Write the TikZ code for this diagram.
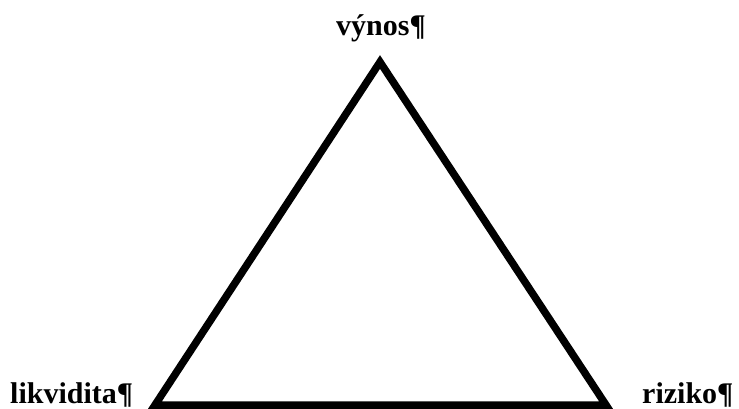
\documentclass[tikz,border=0pt]{standalone}
\usepackage{fontspec}
\setmainfont{Liberation Serif}
\tikzset{lbl/.style={font=\fontsize{30}{34}\selectfont\bfseries, inner sep=0pt, text=black},
  edge/.style={line width=7.5pt, line join=miter, draw=black}}
\begin{document}
\begin{tikzpicture}[x=1pt,y=-1pt]
\useasboundingbox (0,0) rectangle (739,409);
\coordinate (top) at (380,62);
\coordinate (bl) at (155,405);
\coordinate (br) at (606,405);
\node[lbl, anchor=base] (vynos) at (381,36) {výnos¶};
\node[lbl, anchor=base west] (likv) at (10,403) {likvidita¶};
\node[lbl, anchor=base west] (riz) at (642,403) {riziko¶};
\draw[edge] (top) -- (br) -- (bl) -- cycle;
\end{tikzpicture}
\end{document}
